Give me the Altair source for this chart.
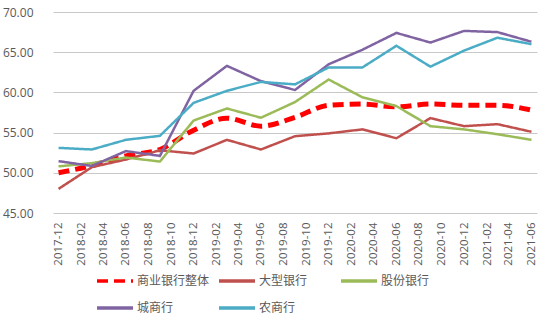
import altair as alt
import pandas as pd

dates = ["2017-12-01", "2018-03-01", "2018-06-01", "2018-09-01", "2018-12-01",
         "2019-03-01", "2019-06-01", "2019-09-01", "2019-12-01", "2020-03-01",
         "2020-06-01", "2020-09-01", "2020-12-01", "2021-03-01", "2021-06-01"]

series_names = ["商业银行整体", "大型银行", "股份银行", "城商行", "农商行"]

total = [50.0, 50.9, 52.1, 52.9, 55.3, 56.8, 55.8, 56.9, 58.4, 58.55, 58.2, 58.55, 58.4, 58.4, 57.8]
big = [48.0, 50.7, 51.65, 52.8, 52.4, 54.1, 52.9, 54.55, 54.9, 55.4, 54.3, 56.8, 55.8, 56.05, 55.1]
joint = [50.8, 51.2, 51.9, 51.4, 56.5, 58.0, 56.85, 58.8, 61.6, 59.4, 58.3, 55.8, 55.4, 54.8, 54.1]
city = [51.45, 50.85, 52.7, 52.1, 60.2, 63.3, 61.4, 60.3, 63.5, 65.3, 67.4, 66.2, 67.65, 67.5, 66.3]
rural = [53.1, 52.9, 54.1, 54.6, 58.7, 60.2, 61.3, 61.0, 63.1, 63.1, 65.8, 63.2, 65.2, 66.8, 66.0]

tick_labels = ["2017-12", "2018-02", "2018-04", "2018-06", "2018-08", "2018-10", "2018-12",
               "2019-02", "2019-04", "2019-06", "2019-08", "2019-10", "2019-12",
               "2020-02", "2020-04", "2020-06", "2020-08", "2020-10", "2020-12",
               "2021-02", "2021-04", "2021-06"]
y_ticks = [45, 50, 55, 60, 65, 70]

colors = ["#FF0000", "#C0504D", "#9BBB59", "#8064A2", "#4BACC6"]
dashes = [[11, 6], [1, 0], [1, 0], [1, 0], [1, 0]]

rows = []
for name, vals in zip(series_names, [total, big, joint, city, rural]):
    for d, v in zip(dates, vals):
        rows.append({"date": d, "series": name, "value": v})
df = pd.DataFrame(rows)

tick_values = [alt.DateTime(year=int(t[:4]), month=int(t[5:]), date=1, utc=True) for t in tick_labels]

legend = alt.Legend(
    title=None, orient="none", legendX=42, legendY=249, columns=3, direction="horizontal",
    symbolType="stroke", symbolSize=1296, symbolStrokeWidth=3.5,
    labelFontSize=12, labelFont="Noto Sans CJK SC", labelColor="#595959",
    gridAlign="all", columnPadding=2, rowPadding=-12, labelOffset=2, padding=0,
)

base = alt.Chart(df).encode(
    x=alt.X(
        "date:T",
        scale=alt.Scale(
            type="utc",
            domain=[alt.DateTime(year=2017, month=11, date=16, utc=True),
                    alt.DateTime(year=2021, month=6, date=16, utc=True)],
        ),
        axis=alt.Axis(values=tick_values, labelExpr="utcFormat(datum.value, '%Y-%m')",
                      labelAngle=270, grid=False, ticks=False, domain=False,
                      labelPadding=9, labelFontSize=11.5, title=None),
    ),
    y=alt.Y(
        "value:Q",
        scale=alt.Scale(domain=[45, 70], nice=False, zero=False),
        axis=alt.Axis(values=y_ticks, format=".2f", ticks=False, domain=False,
                      labelPadding=20, labelFontSize=12, title=None),
    ),
    color=alt.Color("series:N", scale=alt.Scale(domain=series_names, range=colors),
                    legend=legend, sort=series_names),
    strokeDash=alt.StrokeDash("series:N", scale=alt.Scale(domain=series_names, range=dashes),
                              legend=legend, sort=series_names),
)

dashed = base.transform_filter(alt.datum.series == "商业银行整体").mark_line(
    strokeWidth=5, interpolate="monotone")
solid = base.transform_filter(alt.datum.series != "商业银行整体").mark_line(strokeWidth=2.5)

chart = alt.layer(dashed, solid).properties(
    width=484, height=201,
    autosize=alt.AutoSizeParams(type="none"),
    padding={"left": 53, "top": 12, "right": 13, "bottom": 111},
    background="white",
).configure_axis(
    gridColor="#C8C8C8", labelColor="#595959", labelFont="Open Sans",
).configure_view(stroke=None)

chart.save("out.html", embed_options={"renderer": "svg", "actions": False})
